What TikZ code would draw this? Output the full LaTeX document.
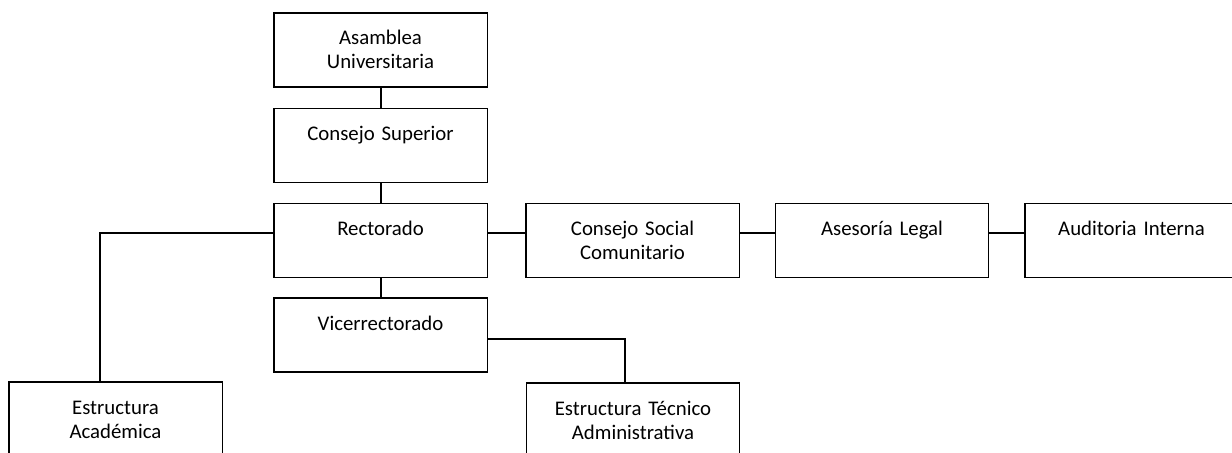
\documentclass[tikz,border=0pt]{standalone}
\usepackage{fontspec}
\setmainfont{Carlito}

\begin{document}
\begin{tikzpicture}[x=0.75pt,y=-0.75pt,
		unidad/.style={draw, line width=1pt, inner sep=0pt, text width=160pt, align=center,
			text height=24pt, text depth=31.5pt, font=\fontsize{15.6pt}{18pt}\selectfont},
		enlace/.style={line width=1.5pt}]
	\useasboundingbox (0,0) rectangle (1232,453);
	\clip (0,0) rectangle (1232,453);

	% eje central
	\node[unidad] (asamblea) at (380.5,50) {Asamblea\\Universitaria};
	\node[unidad] (consejo) at (380.5,145.5) {Consejo Superior};
	\node[unidad] (rectorado) at (380.5,240.5) {Rectorado};
	\node[unidad] (vicerrectorado) at (380.5,335) {Vicerrectorado};

	% asesores
	\node[unidad] (social) at (632.5,240.5) {Consejo Social\\Comunitario};
	\node[unidad] (asesoria) at (882,240.5) {Asesoría Legal};
	\node[unidad] (auditoria) at (1131.5,240.5) {Auditoria Interna};

	% estructuras
	\node[unidad] (academica) at (115.5,419) {Estructura\\Académica};
	\node[unidad] (tecnica) at (633,420) {Estructura Técnico\\Administrativa};

	\draw[enlace] (asamblea.south) -- (consejo.north);
	\draw[enlace] (consejo.south) -- (rectorado.north);
	\draw[enlace] (rectorado.south) -- (vicerrectorado.north);
	\draw[enlace] ([yshift=5.6pt]rectorado.east) -- ([yshift=5.6pt]social.west);
	\draw[enlace] ([yshift=5.6pt]social.east) -- ([yshift=5.6pt]asesoria.west);
	\draw[enlace] ([yshift=5.6pt]asesoria.east) -- ([yshift=5.6pt]auditoria.west);
	\draw[enlace] ([yshift=5.6pt]rectorado.west) -| ([xshift=-11.5pt]academica.north); % rama izquierda
	\draw[enlace] ([yshift=-3pt]vicerrectorado.east) -| ([xshift=-6pt]tecnica.north); % rama derecha
\end{tikzpicture}
\end{document}
